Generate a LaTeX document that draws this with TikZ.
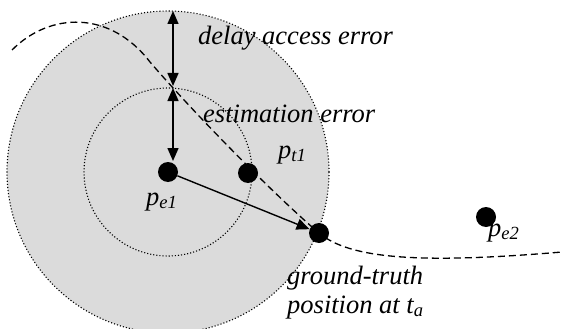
\documentclass[tikz,border=0pt]{standalone}
\usepackage{fontspec}
\setmainfont{Liberation Serif}
\usetikzlibrary{arrows.meta}
\begin{document}
\begin{tikzpicture}[x=1pt,y=-1pt,
  dot/.style={circle,fill=black,inner sep=0pt,minimum size=20pt},
  lbl/.style={font=\fontsize{26.5}{31}\selectfont\itshape,inner sep=0pt,anchor=base west},
  ring/.style={draw=black,dotted,line width=1.1pt},
  arr/.style={line width=1.4pt,-{Triangle[length=13pt,width=11pt]}},
  darr/.style={line width=1.4pt,{Triangle[length=13pt,width=11pt]}-{Triangle[length=13pt,width=11pt]}},
  traj/.style={line width=1.3pt,dash pattern=on 7pt off 4pt}]
\useasboundingbox (0,0) rectangle (562,329);
\coordinate (c) at (168,172);
\fill[gray!28] (c) circle[radius=161];
\draw[ring] (c) circle[radius=161];
\draw[ring] (c) circle[radius=84];
\draw[traj] (12,50) .. controls (50,12) and (110,10) .. (150,62)
  .. controls (200,120) and (280,200) .. (319,233)
  .. controls (350,259) and (420,264) .. (562,252);
\node[dot] (pe1) at (168,172) {};
\node[dot] (pt1) at (248,173) {};
\node[dot] (gt) at (319,233) {};
\node[dot] (pe2) at (486,217) {};
\coordinate (top) at (173,11);
\coordinate (mid1) at (173,86);
\coordinate (mid2) at (173,88);
\coordinate (bot) at (173,161);
\draw[darr] (top) -- (mid1);
\draw[darr] (mid2) -- (bot);
\draw[arr] (pe1) -- (gt);
\node[lbl] (t1) at (198,45) {delay access error};
\node[lbl] (t2) at (203,122) {estimation error};
\node[lbl] (l1) at (278,158) {p\textsubscript{t1}};
\node[lbl] (l2) at (146,205) {p\textsubscript{e1}};
\node[lbl] (l3) at (488,236) {p\textsubscript{e2}};
\node[lbl] (l4) at (287,284) {ground-truth};
\node[lbl] (l5) at (287,313) {position at t\textsubscript{a}};
\end{tikzpicture}
\end{document}
